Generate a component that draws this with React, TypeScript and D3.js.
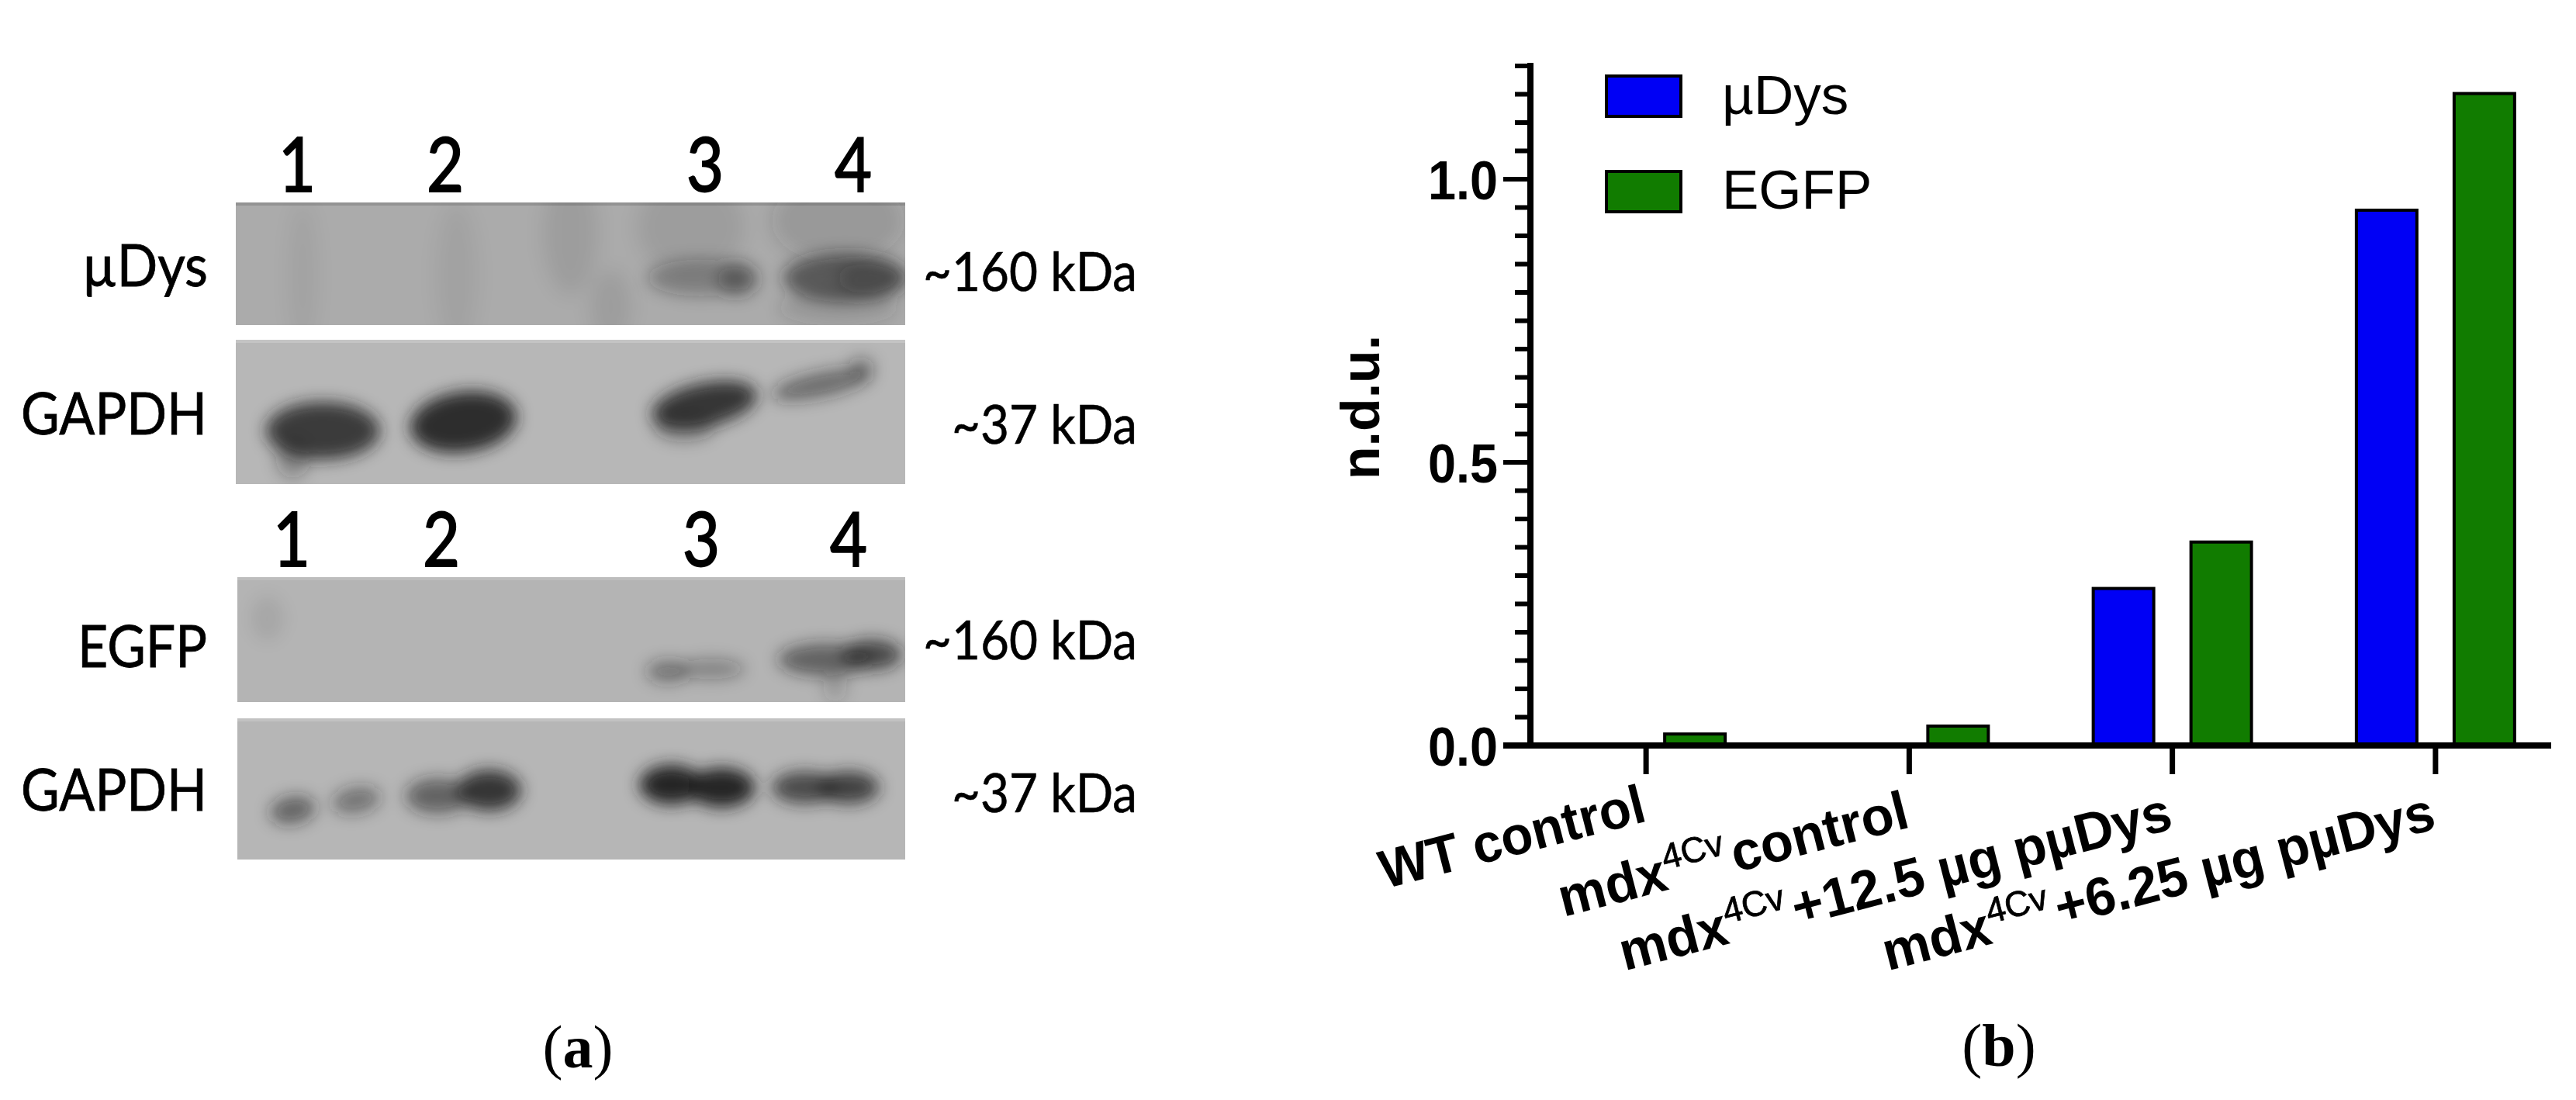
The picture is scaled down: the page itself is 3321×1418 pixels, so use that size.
import React from "react";
import * as d3 from "d3";

// ---- bar chart data (panel b) ----
const categories = ["WT control", "mdx4Cv control", "mdx4Cv +12.5 µg pµDys", "mdx4Cv +6.25 µg pµDys"];
const seriesNames = ["µDys", "EGFP"];
const muDysValues = [0, 0, 0.28, 0.948];
const egfpValues = [0.023, 0.037, 0.362, 1.154];
const majorYTicks = [0, 0.5, 1.0];
const labelParts = [
  ["WT control", "", ""],
  ["mdx", "4Cv", " control"],
  ["mdx", "4Cv", " +12.5 µg pµDys"],
  ["mdx", "4Cv", " +6.25 µg pµDys"],
];

// ---- blot data (panel a): [fx, fy, rx, ry, rotation, density], in fractions of a blot strip ----
type Band = number[];
const muDysBands: Band[] = [
  [0.695, 0.615, 0.08, 0.15, 0, 0.3],
  [0.75, 0.625, 0.03, 0.14, 0, 0.4],
  [0.91, 0.615, 0.092, 0.2, 0, 0.58],
  [0.95, 0.615, 0.05, 0.15, 0, 0.3],
  [0.9, 0.86, 0.09, 0.15, 0, 0.14],
];
const muDysStreaks: Band[] = [
  [0.1, 0.6, 0.02, 0.6, 0, 0.05],
  [0.33, 0.6, 0.03, 0.6, 0, 0.05],
  [0.5, 0.25, 0.04, 0.5, 0, 0.08],
  [0.56, 0.85, 0.03, 0.3, 0, 0.08],
  [0.68, 0.2, 0.08, 0.4, 0, 0.08],
  [0.9, 0.15, 0.1, 0.35, 0, 0.14],
];
const gapdhTopBands: Band[] = [
  [0.13, 0.63, 0.085, 0.2, 0, 0.82],
  [0.085, 0.82, 0.025, 0.14, 0, 0.3],
  [0.34, 0.57, 0.08, 0.21, -8, 0.9],
  [0.7, 0.45, 0.08, 0.15, -12, 0.85],
  [0.67, 0.6, 0.045, 0.1, 0, 0.35],
  [0.875, 0.31, 0.075, 0.085, -12, 0.5],
  [0.935, 0.2, 0.018, 0.08, 0, 0.35],
];
const egfpBands: Band[] = [
  [0.645, 0.755, 0.032, 0.085, 0, 0.45],
  [0.71, 0.735, 0.05, 0.08, 0, 0.32],
  [0.88, 0.66, 0.07, 0.13, 0, 0.55],
  [0.95, 0.62, 0.045, 0.12, 0, 0.7],
  [0.895, 0.88, 0.018, 0.12, 0, 0.18],
  [0.045, 0.33, 0.025, 0.18, 0, 0.07],
];
const gapdhBottomBands: Band[] = [
  [0.083, 0.65, 0.034, 0.095, -10, 0.55],
  [0.178, 0.58, 0.036, 0.09, -10, 0.45],
  [0.3, 0.55, 0.048, 0.125, 0, 0.55],
  [0.377, 0.51, 0.048, 0.145, 0, 0.85],
  [0.65, 0.47, 0.048, 0.14, 0, 0.98],
  [0.725, 0.49, 0.05, 0.14, 0, 0.95],
  [0.85, 0.49, 0.05, 0.115, 0, 0.72],
  [0.915, 0.49, 0.046, 0.115, 0, 0.78],
];
const laneNumbers = ["1", "2", "3", "4"];

const W = 3321;
const H = 1418;
const SANS = "'Liberation Sans', Arial, sans-serif";
const LATO = "Lato, 'Open Sans', sans-serif";

function Strip({ id, x0, x1, y0, y1, fill, edge, bands, streaks = [] }: any) {
  const fx = d3.scaleLinear().domain([0, 1]).range([x0, x1]);
  const fy = d3.scaleLinear().domain([0, 1]).range([y0, y1]);
  const w = x1 - x0;
  const h = y1 - y0;
  const drawBand = (b: Band, i: number) => (
    <ellipse
      key={i}
      cx={fx(b[0])}
      cy={fy(b[1])}
      rx={b[2] * w}
      ry={b[3] * h}
      fill="#202020"
      opacity={b[5]}
      transform={`rotate(${b[4]} ${fx(b[0])} ${fy(b[1])})`}
    />
  );
  return (
    <g>
      <clipPath id={id}>
        <rect x={x0} y={y0} width={w} height={h} />
      </clipPath>
      <rect x={x0} y={y0} width={w} height={h} fill={fill} />
      <rect x={x0} y={y0} width={w} height={4} fill={edge} />
      <g clipPath={`url(#${id})`}>
        <g filter="url(#streakBlur)">{streaks.map(drawBand)}</g>
        <g filter="url(#bandBlur)">{bands.map(drawBand)}</g>
      </g>
    </g>
  );
}

function FitText({ x, y, len, children, size, family, anchor = "start", weight = 400, bolden = 0 }: any) {
  return (
    <text
      x={x}
      y={y}
      textLength={len}
      lengthAdjust="spacingAndGlyphs"
      fontSize={size}
      fontFamily={family}
      fontWeight={weight}
      textAnchor={anchor}
      fill="#000"
      stroke={bolden ? "#000" : "none"}
      strokeWidth={bolden}
    >
      {children}
    </text>
  );
}

export default function App() {
  const y = d3.scaleLinear().domain([0, 1.2]).range([961, 85]);
  const x = d3.scaleBand().domain(categories).range([1952.5, 3309.5]);
  const sub = d3.scaleBand().domain(seriesNames).range([-104, 104]).paddingInner(44 / 126);
  const colors = d3.scaleOrdinal<string>().domain(seriesNames).range(["#0000f5", "#117c00"]);
  const values: Record<string, number[]> = { [seriesNames[0]]: muDysValues, [seriesNames[1]]: egfpValues };
  const minor = d3.range(0, 25).map((i) => i * 0.05);
  const axisX = 1973;
  const base = y(0);
  const tickX = (c: string) => (x(c) as number) + x.bandwidth() / 2;

  const laneTop = [383, 574, 909, 1100];
  const laneBottom = [376, 569, 904, 1094];

  return (
    <svg
      width={W}
      height={H}
      viewBox={`0 0 ${W} ${H}`}
      style={{ position: "absolute", left: 0, top: 0, background: "#fff" }}
    >
      <defs>
        <filter id="bandBlur" x="-30%" y="-30%" width="160%" height="160%">
          <feGaussianBlur stdDeviation="10" />
        </filter>
        <filter id="streakBlur" x="-30%" y="-30%" width="160%" height="160%">
          <feGaussianBlur stdDeviation="12" />
        </filter>
      </defs>

      {/* panel a */}
      <Strip id="s1" x0={304} x1={1167} y0={261} y1={419} fill="#ababab" edge="#939393" bands={muDysBands} streaks={muDysStreaks} />
      <Strip id="s2" x0={304} x1={1167} y0={438} y1={624} fill="#b7b7b7" edge="#c4c4c4" bands={gapdhTopBands} />
      <Strip id="s3" x0={306} x1={1167} y0={744} y1={905} fill="#b4b4b4" edge="#bdbdbd" bands={egfpBands} />
      <Strip id="s4" x0={306} x1={1167} y0={926} y1={1108} fill="#b6b6b6" edge="#c2c2c2" bands={gapdhBottomBands} />

      {laneNumbers.map((n, i) => (
        <g key={n}>
          <FitText x={laneTop[i]} y={247} size={96} family={LATO} anchor="middle" len={48} bolden={2}>{n}</FitText>
          <FitText x={laneBottom[i]} y={730} size={96} family={LATO} anchor="middle" len={48} bolden={2}>{n}</FitText>
        </g>
      ))}
      <FitText x={106} y={369} len={162} size={76} family={LATO} bolden={0.8}>µDys</FitText>
      <FitText x={27} y={560} len={240} size={76} family={LATO} bolden={0.8}>GAPDH</FitText>
      <FitText x={100} y={860} len={167} size={76} family={LATO} bolden={0.8}>EGFP</FitText>
      <FitText x={27} y={1045} len={240} size={76} family={LATO} bolden={0.8}>GAPDH</FitText>
      <FitText x={1190} y={375} len={276} size={70} family={LATO} bolden={0.6}>~160 kDa</FitText>
      <FitText x={1227} y={572} len={239} size={70} family={LATO} bolden={0.6}>~37 kDa</FitText>
      <FitText x={1190} y={850} len={276} size={70} family={LATO} bolden={0.6}>~160 kDa</FitText>
      <FitText x={1227} y={1047} len={239} size={70} family={LATO} bolden={0.6}>~37 kDa</FitText>

      <text x={745} y={1376} textAnchor="middle" fontFamily="'Liberation Serif', serif" fontSize={78}>
        (<tspan fontWeight={700}>a</tspan>)
      </text>
      <text x={2577} y={1374} textAnchor="middle" fontFamily="'Liberation Serif', serif" fontSize={78}>
        (<tspan fontWeight={700}>b</tspan>)
      </text>

      {/* panel b: bars */}
      {categories.map((c, i) =>
        seriesNames.map((s) => {
          const v = values[s][i];
          if (!v) return null;
          return (
            <rect
              key={s + c}
              x={tickX(c) + (sub(s) as number) + 2}
              y={y(v) + 2}
              width={sub.bandwidth() - 4}
              height={base - y(v) - 2}
              fill={colors(s)}
              stroke="#000"
              strokeWidth={4}
            />
          );
        })
      )}

      {/* y axis */}
      <line x1={axisX} x2={axisX} y1={y(1.2) - 4} y2={base} stroke="#000" strokeWidth={8} />
      {minor.map((t) => (
        <line key={t} x1={axisX - 20} x2={axisX} y1={y(t)} y2={y(t)} stroke="#000" strokeWidth={6} />
      ))}
      {majorYTicks.map((t) => (
        <g key={t}>
          <line x1={axisX - 35} x2={axisX} y1={y(t)} y2={y(t)} stroke="#000" strokeWidth={6} />
          <FitText x={1931} y={y(t) + 26} len={90} size={71} family={SANS} anchor="end" weight={700}>
            {d3.format(".1f")(t)}
          </FitText>
        </g>
      ))}
      <text
        transform="translate(1778,525) rotate(-90)"
        textAnchor="middle"
        fontFamily={SANS}
        fontWeight={700}
        fontSize={70}
      >
        n.d.u.
      </text>

      {/* x axis */}
      <line x1={1938} x2={3289} y1={base} y2={base} stroke="#000" strokeWidth={8} />
      {categories.map((c) => (
        <line key={c} x1={tickX(c)} x2={tickX(c)} y1={base} y2={998} stroke="#000" strokeWidth={7} />
      ))}
      {categories.map((c, i) => {
        const ends = [1058, 1066, 1068, 1068];
        const [a, sup, b] = labelParts[i];
        return (
          <g key={c} transform={`translate(${tickX(c) + 3},${ends[i]}) rotate(-14.5) scale(${sup ? 0.985 : 0.96},1)`}>
            <text textAnchor="end" fontFamily={SANS} fontWeight={700} fontSize={70}>
              {a}
              {sup && (
                <tspan fontSize={46} fontWeight={400} stroke="#000" strokeWidth={0.8} dy={-26}>
                  {sup}
                </tspan>
              )}
              {b && <tspan dx={-12} dy={sup ? 26 : 0}>{b}</tspan>}
            </text>
          </g>
        );
      })}

      {/* legend */}
      {seriesNames.map((s, i) => (
        <g key={s}>
          <rect x={2071} y={98 + i * 123} width={96} height={52} fill={colors(s)} stroke="#000" strokeWidth={4} />
          <text x={2220} y={147 + i * 122} fontFamily={SANS} fontSize={71} fill="#000">
            {s}
          </text>
        </g>
      ))}
    </svg>
  );
}
